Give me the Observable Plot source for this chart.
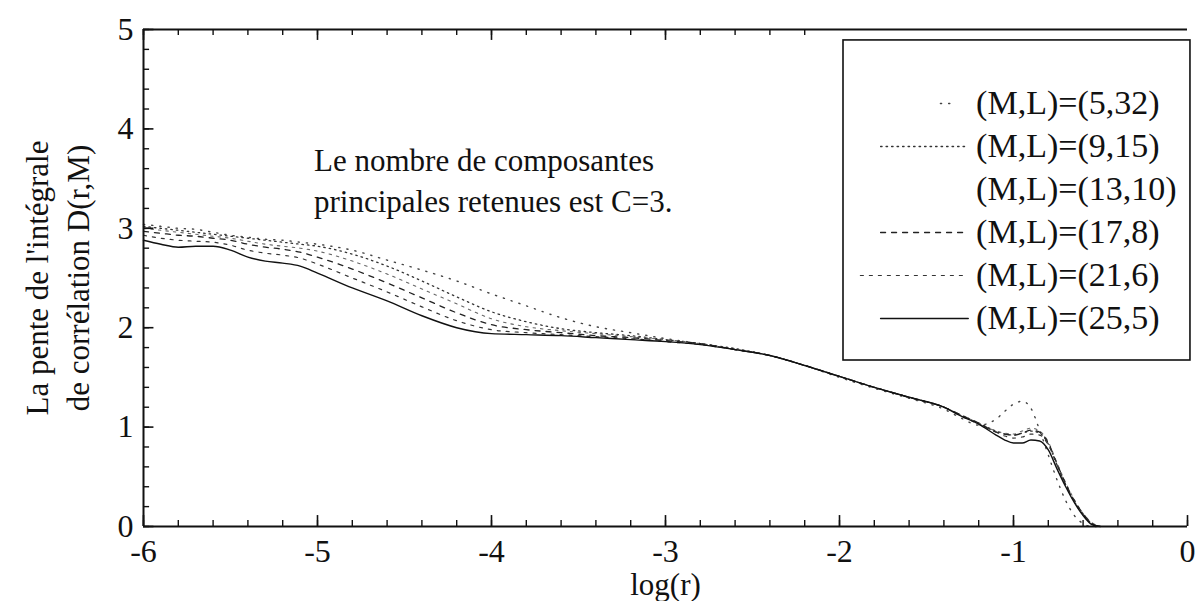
<!DOCTYPE html>
<html>
<head>
<meta charset="utf-8">
<script src="https://cdn.jsdelivr.net/npm/d3@7"></script>
<script src="https://cdn.jsdelivr.net/npm/@observablehq/plot@0.6"></script>
<style>
  html, body { margin: 0; padding: 0; background: #fff; }
  #chart svg { display: block; }
</style>
</head>
<body>
<div id="chart"></div>
<script>
// ---- data ----
const logR = [-6, -5.9, -5.8, -5.7, -5.6, -5.5, -5.4, -5.3, -5.2, -5.1, -5.0,
  -4.8, -4.6, -4.4, -4.2, -4.0, -3.8, -3.6, -3.4, -3.2, -3.0,
  -2.8, -2.6, -2.4, -2.2, -2.0, -1.8, -1.6, -1.4, -1.3, -1.2, -1.1, -1.05,
  -1.0, -0.95, -0.9, -0.85, -0.8, -0.75, -0.7, -0.65, -0.6, -0.55, -0.5];

const seriesNames = ["(M,L)=(5,32)", "(M,L)=(9,15)", "(M,L)=(13,10)", "(M,L)=(17,8)", "(M,L)=(21,6)", "(M,L)=(25,5)"];

const d_5_32 = [3.04, 3.02, 3.00, 2.99, 2.96, 2.93, 2.91, 2.89, 2.88, 2.86, 2.84,
  2.78, 2.68, 2.58, 2.47, 2.34, 2.22, 2.10, 2.01, 1.95, 1.89,
  1.84, 1.78, 1.72, 1.62, 1.50, 1.39, 1.29, 1.18, 1.09, 1.02, 1.08, 1.16,
  1.23, 1.26, 1.19, 0.97, 0.72, 0.47, 0.26, 0.11, 0.03, 0.00, 0.00];
const d_9_15 = [3.02, 3.00, 2.98, 2.96, 2.94, 2.92, 2.90, 2.88, 2.86, 2.84, 2.82,
  2.74, 2.62, 2.47, 2.31, 2.16, 2.06, 1.99, 1.95, 1.92, 1.88,
  1.84, 1.79, 1.72, 1.62, 1.51, 1.40, 1.30, 1.20, 1.12, 1.04, 0.96, 0.93,
  0.92, 0.94, 0.96, 0.94, 0.83, 0.62, 0.42, 0.25, 0.12, 0.03, 0.00];
const d_13_10 = [3.00, 2.98, 2.96, 2.94, 2.92, 2.90, 2.87, 2.84, 2.82, 2.80, 2.77,
  2.67, 2.54, 2.39, 2.24, 2.09, 2.01, 1.97, 1.94, 1.91, 1.88,
  1.84, 1.78, 1.72, 1.62, 1.51, 1.40, 1.30, 1.20, 1.12, 1.04, 0.96, 0.94,
  0.93, 0.96, 0.99, 0.96, 0.85, 0.64, 0.44, 0.27, 0.13, 0.04, 0.00];
const d_17_8 = [2.97, 2.95, 2.93, 2.92, 2.90, 2.88, 2.84, 2.81, 2.79, 2.76, 2.71,
  2.59, 2.45, 2.30, 2.15, 2.03, 1.98, 1.95, 1.92, 1.90, 1.87,
  1.84, 1.78, 1.72, 1.62, 1.51, 1.40, 1.30, 1.20, 1.12, 1.04, 0.95, 0.93,
  0.92, 0.94, 0.97, 0.95, 0.84, 0.63, 0.43, 0.26, 0.13, 0.03, 0.00];
const d_21_6 = [2.93, 2.90, 2.88, 2.87, 2.86, 2.83, 2.78, 2.75, 2.73, 2.70, 2.64,
  2.50, 2.36, 2.21, 2.07, 1.98, 1.95, 1.93, 1.91, 1.89, 1.86,
  1.83, 1.78, 1.72, 1.62, 1.51, 1.40, 1.30, 1.20, 1.11, 1.03, 0.95, 0.91,
  0.89, 0.90, 0.93, 0.92, 0.82, 0.62, 0.42, 0.25, 0.12, 0.03, 0.00];
const d_25_5 = [2.88, 2.84, 2.81, 2.82, 2.82, 2.78, 2.71, 2.67, 2.65, 2.62, 2.55,
  2.40, 2.27, 2.12, 2.00, 1.94, 1.93, 1.92, 1.90, 1.88, 1.86,
  1.83, 1.78, 1.72, 1.62, 1.51, 1.40, 1.30, 1.20, 1.11, 1.03, 0.92, 0.87,
  0.84, 0.84, 0.87, 0.86, 0.77, 0.58, 0.40, 0.24, 0.11, 0.02, 0.00];

const seriesValues = [d_5_32, d_9_15, d_13_10, d_17_8, d_21_6, d_25_5];

const xTickLabels = [-6, -5, -4, -3, -2, -1, 0];
const yTickLabels = [0, 1, 2, 3, 4, 5];

const yTitle = "La pente de l'intégrale\nde corrélation D(r,M)";
const xTitle = "log(r)";
const note = "Le nombre de composantes\nprincipales retenues est C=3.";

// ---- styles ----
const styles = [
  {dash: "1.2,7", color: "#444", width: 1.4},
  {dash: "1.5,4", color: "#333", width: 1.3},
  {dash: "2.5,5", color: "#666", width: 1.1},
  {dash: "5,6", color: "#222", width: 1.3},
  {dash: "3,6", color: "#333", width: 1.2},
  {dash: null, color: "#111", width: 1.4}
];

const rows = [];
seriesNames.forEach((name, i) => {
  logR.forEach((x, j) => rows.push({series: name, idx: i, x, y: seriesValues[i][j]}));
});

const minorX = d3.range(-6, 0.0001, 0.2).map(v => +v.toFixed(2));
const minorY = d3.range(0, 5.0001, 0.2).map(v => +v.toFixed(2));

const font = "Liberation Serif, Times New Roman, serif";

const lineMarks = seriesNames.map((name, i) =>
  Plot.line(rows.filter(r => r.idx === i), {
    x: "x", y: "y", curve: "monotone-x",
    stroke: styles[i].color, strokeWidth: styles[i].width,
    strokeDasharray: styles[i].dash
  })
);

// legend layout (in data space of the frame)
const legX1 = -1.977, legX2 = 0.017, legY1 = 1.67, legY2 = 4.89;
const legRowY = [4.256, 3.823, 3.390, 2.958, 2.525, 2.093];
const legendSamples = [
  {x1: -1.42, x2: -1.35}, {x1: -1.764, x2: -1.26}, null,
  {x1: -1.764, x2: -1.26}, {x1: -1.88, x2: -1.26}, {x1: -1.764, x2: -1.26}
];
const legendMarks = [];
legendMarks.push(Plot.rect([0], {x1: legX1, x2: legX2, y1: legY1, y2: legY2, fill: "white", stroke: "#111", strokeWidth: 1.6}));
seriesNames.forEach((name, i) => {
  const s = legendSamples[i];
  if (s) {
    legendMarks.push(Plot.line([[s.x1, legRowY[i]], [s.x2, legRowY[i]]], {
      stroke: styles[i].color, strokeWidth: styles[i].width, strokeDasharray: styles[i].dash
    }));
  }
  legendMarks.push(Plot.text([name], {x: -1.215, y: legRowY[i], text: d => d, textAnchor: "start",
    fontSize: 34, fontFamily: font, fill: "#111"}));
});

const chart = Plot.plot({
  width: 1196,
  height: 601,
  marginLeft: 143,
  marginRight: 9,
  marginTop: 29,
  marginBottom: 75,
  x: {domain: [-6, 0]},
  y: {domain: [0, 5]},
  style: {fontFamily: font, background: "white", color: "#111"},
  marks: [
    ...lineMarks,
    ...legendMarks,
    // frame lines
    Plot.ruleY([0], {strokeWidth: 2, stroke: "#111"}),
    Plot.ruleY([5], {strokeWidth: 1.8, stroke: "#111"}),
    Plot.ruleX([-6], {y1: 0, y2: 5, strokeWidth: 2, stroke: "#111"}),
    // inward ticks
    Plot.ruleX(minorX, {y1: 0, y2: 0.06, stroke: "#111", strokeWidth: 1.4}),
    Plot.ruleX(xTickLabels, {y1: 0, y2: 0.11, stroke: "#111", strokeWidth: 1.6}),
    Plot.ruleX(minorX.filter(v => v < -2), {y1: 5, y2: 4.94, stroke: "#111", strokeWidth: 1.4}),
    Plot.ruleX(xTickLabels.filter(v => v < -2), {y1: 5, y2: 4.89, stroke: "#111", strokeWidth: 1.6}),
    Plot.ruleY(minorY, {x1: -6, x2: -5.965, stroke: "#111", strokeWidth: 1.4}),
    Plot.ruleY(yTickLabels, {x1: -6, x2: -5.94, stroke: "#111", strokeWidth: 1.6}),
    // tick labels
    Plot.axisX(xTickLabels, {anchor: "bottom", tickSize: 0, tickPadding: 13, fontSize: 32, label: null, tickFormat: d => String(d)}),
    Plot.axisY(yTickLabels, {anchor: "left", tickSize: 0, tickPadding: 10, fontSize: 32, label: null, tickFormat: d => String(d)}),
    // titles
    Plot.text([xTitle], {x: -3, y: 0, dy: 59, text: d => d, fontSize: 31, fontFamily: font, fill: "#111"}),
    Plot.text([yTitle], {x: -6, y: 2.5, dx: -88, rotate: -90, text: d => d, fontSize: 31, lineHeight: 1.3, fontFamily: font, fill: "#111"}),
    Plot.text([note], {x: -5.02, y: 3.506, text: d => d, textAnchor: "start", fontSize: 31, lineHeight: 1.33, fontFamily: font, fill: "#111"})
  ]
});
document.getElementById("chart").appendChild(chart);
</script>
</body>
</html>
